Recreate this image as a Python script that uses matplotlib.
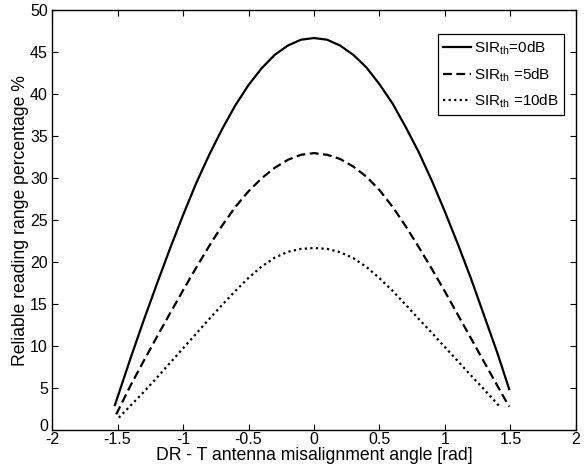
import matplotlib
matplotlib.use("Agg")
import matplotlib.pyplot as plt
import matplotlib.transforms as mtransforms

plt.rcParams['font.family'] = ['Liberation Sans', 'DejaVu Sans']
plt.rcParams['mathtext.fontset'] = 'custom'
plt.rcParams['mathtext.rm'] = 'Liberation Sans'
plt.rcParams['mathtext.it'] = 'Liberation Sans:italic'

# Data
x_solid = [-1.52, -1.4, -1.3, -1.2, -1.1, -1.0, -0.9, -0.8, -0.7, -0.6, -0.5, -0.4, -0.3, -0.2, -0.1,
           0.0, 0.1, 0.2, 0.3, 0.4, 0.5, 0.6, 0.7, 0.8, 0.9, 1.0, 1.1, 1.2, 1.3, 1.4, 1.49]
y_0dB = [3.0, 8.6, 13.1, 17.4, 21.6, 25.6, 29.4, 32.8, 35.9, 38.7, 41.1, 43.1, 44.7, 45.8, 46.5,
         46.7, 46.5, 45.8, 44.7, 43.2, 41.2, 38.9, 36.1, 33.1, 29.7, 26.0, 22.1, 18.0, 13.6, 9.2, 4.9]

x_dash = [-1.51, -1.4, -1.3, -1.2, -1.1, -1.0, -0.9, -0.8, -0.7, -0.6, -0.5, -0.4, -0.3, -0.2, -0.1,
          0.0, 0.1, 0.2, 0.3, 0.4, 0.5, 0.6, 0.7, 0.8, 0.9, 1.0, 1.1, 1.2, 1.3, 1.4, 1.49]
y_5dB = [1.9, 5.35, 8.25, 11.1, 13.9, 16.65, 19.35, 21.95, 24.4, 26.6, 28.45, 30.0, 31.25, 32.2, 32.8,
         33.0, 32.8, 32.3, 31.4, 30.2, 28.6, 26.6, 24.3, 21.8, 19.2, 16.5, 13.7, 10.9, 8.1, 5.3, 2.8]

x_dot = [-1.49, -1.4, -1.3, -1.2, -1.1, -1.0, -0.9, -0.8, -0.7, -0.6, -0.5, -0.4, -0.3, -0.2, -0.1,
         0.0, 0.1, 0.2, 0.3, 0.4, 0.5, 0.6, 0.7, 0.8, 0.9, 1.0, 1.1, 1.2, 1.3, 1.427]
y_10dB = [1.5, 2.95, 4.55, 6.25, 8.0, 9.75, 11.5, 13.25, 14.95, 16.6, 18.15, 19.5, 20.55, 21.25, 21.6,
          21.7, 21.6, 21.2, 20.5, 19.45, 18.1, 16.6, 14.95, 13.25, 11.6, 9.9, 8.2, 6.5, 4.85, 2.65]

labels = [r'SIR$_{\mathrm{th}}$=0dB', r'SIR$_{\mathrm{th}}$ =5dB', r'SIR$_{\mathrm{th}}$ =10dB']

fig = plt.figure(figsize=(5.85, 4.69), dpi=100)
ax = fig.add_axes([0.0889, 0.0825, 0.8957, 0.8955])

ax.plot(x_solid, y_0dB, color='black', lw=1.6, linestyle='-', label=labels[0])
ax.plot(x_dash, y_5dB, color='black', lw=1.6, linestyle=(0, (4, 2)), label=labels[1])
ax.plot(x_dot, y_10dB, color='black', lw=1.6, linestyle=(0, (1, 1.5)), label=labels[2])

ax.set_xlim(-2, 2)
ax.set_ylim(0, 50)
ax.set_xticks([-2, -1.5, -1, -0.5, 0, 0.5, 1, 1.5, 2])
ax.set_xticklabels(['-2', '-1.5', '-1', '-0.5', '0', '0.5', '1', '1.5', '2'])
ax.set_yticks(range(0, 51, 5))
ax.tick_params(direction='in', top=True, right=True, length=4, width=0.8, labelsize=11.5)
ax.tick_params(axis='x', pad=1)
ax.tick_params(axis='y', pad=3)
for s in ax.spines.values():
    s.set_linewidth(1.0)

ax.set_xlabel('DR - T antenna misalignment angle [rad]', fontsize=12.7, labelpad=0)
ax.set_ylabel('Reliable reading range percentage %', fontsize=12.7, labelpad=1)

leg = ax.legend(loc='upper right', bbox_to_anchor=(0.977, 0.943), fontsize=11, frameon=True,
                fancybox=False, edgecolor='black', framealpha=1, handlelength=1.8,
                handletextpad=0.2, borderpad=0.35, labelspacing=0.6, borderaxespad=0.0)
leg.get_frame().set_linewidth(0.9)

# nudge the y "0" label up slightly, as in the reference, so it does not collide with "-2"
ylabels = ax.get_yticklabels()
offset = mtransforms.ScaledTranslation(0, 4 / 72, fig.dpi_scale_trans)
ylabels[0].set_transform(ylabels[0].get_transform() + offset)

fig.savefig('out.png', dpi=100)
